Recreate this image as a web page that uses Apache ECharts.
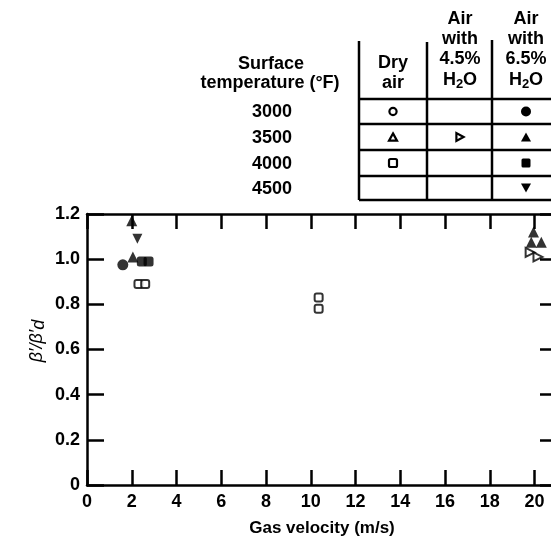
<!DOCTYPE html>
<html><head><meta charset="utf-8">
<script src="https://cdn.jsdelivr.net/npm/echarts@6/dist/echarts.min.js"></script>
<style>html,body{margin:0;padding:0;background:#fff}#c{width:551px;height:548px}</style>
</head><body><div id="c"></div>
<script>
// ---- data ----
const xTickValues = [0, 2, 4, 6, 8, 10, 12, 14, 16, 18, 20];
const yTickValues = [0, 0.2, 0.4, 0.6, 0.8, 1.0, 1.2];
const tempLabels = ['3000', '3500', '4000', '4500'];
const dry3000 = [];
const dry3500 = [];
const dry4000 = [[2.3, 0.89], [2.6, 0.89], [10.35, 0.83], [10.35, 0.78]];
const h45_3500 = [[19.8, 1.03], [20.15, 1.01]];
const h65_3000 = [[1.6, 0.975]];
const h65_3500 = [[2.0, 1.17], [2.05, 1.01], [19.95, 1.12], [19.85, 1.075], [20.3, 1.075]];
const h65_4000 = [[2.45, 0.99], [2.75, 0.99]];
const h65_4500 = [[2.25, 1.09]];

const FONT = '"Liberation Sans", Arial, sans-serif';
const chart = echarts.init(document.getElementById('c'), null, {renderer: 'canvas'});

function openStyle() { return {color: '#fff', borderColor: '#000', borderWidth: 2}; }
function fillStyle() { return {color: '#000'}; }

const axisCommon = {
  type: 'value',
  axisLine: {show: true, onZero: false, lineStyle: {color: '#000', width: 2.5}},
  splitLine: {show: false}
};

// table geometry
const colX = [359, 427, 492, 558];
const rowY = [99, 124, 150, 176, 200];
const colC = [393, 460, 526];

const g = [];
const lineStyle = {stroke: '#000', lineWidth: 2.5};
colX.forEach((x, i) => g.push({type: 'line', shape: {x1: x, y1: i === 0 ? 41 : (i === 1 ? 42 : 40), x2: x, y2: rowY[4]}, style: lineStyle, silent: true}));
rowY.forEach(y => g.push({type: 'line', shape: {x1: colX[0], y1: y, x2: 560, y2: y}, style: lineStyle, silent: true}));

function txt(text, x, y, opt) {
  return Object.assign({type: 'text', x: x, y: y, silent: true,
    style: Object.assign({text: text, fill: '#000', font: 'bold 18px ' + FONT, align: 'center', verticalAlign: 'middle'}, opt || {})});
}
g.push(txt('Surface', 271, 64));
g.push(txt('temperature (°F)', 270, 83));
tempLabels.forEach((t, i) => g.push(txt(t, 292, (rowY[i] + rowY[i + 1]) / 2 + 1, {align: 'right'})));
g.push(txt('Dry', colC[0], 63));
g.push(txt('air', colC[0], 83));
const h2o = {text: '{n|H}{s|2}{n|O}', rich: {n: {font: 'bold 18px ' + FONT, lineHeight: 22, verticalAlign: 'middle'}, s: {font: 'bold 13px ' + FONT, lineHeight: 12, verticalAlign: 'bottom'}}};
[['4.5%', colC[1]], ['6.5%', colC[2]]].forEach(([p, x]) => {
  g.push(txt('Air', x, 19));
  g.push(txt('with', x, 39));
  g.push(txt(p, x, 59));
  g.push(Object.assign(txt('', x, 80), {style: Object.assign({fill: '#000', align: 'center', verticalAlign: 'middle'}, h2o)}));
});
// legend glyphs in table
function rc(r) { return (rowY[r] + rowY[r + 1]) / 2; }
const sOpen = {fill: '#fff', stroke: '#000', lineWidth: 2.2};
const sFill = {fill: '#000'};
function tri(cx, cy, s, dir) {
  const h = s * 0.9;
  if (dir === 'up') return [[cx, cy - h / 2], [cx + s / 2, cy + h / 2], [cx - s / 2, cy + h / 2]];
  if (dir === 'down') return [[cx, cy + h / 2], [cx + s / 2, cy - h / 2], [cx - s / 2, cy - h / 2]];
  return [[cx + h / 2, cy], [cx - h / 2, cy - s / 2], [cx - h / 2, cy + s / 2]];
}
g.push({type: 'circle', shape: {cx: colC[0], cy: rc(0), r: 3.6}, style: sOpen, silent: true});
g.push({type: 'polygon', shape: {points: tri(colC[0], rc(1), 8, 'up')}, style: sOpen, silent: true});
g.push({type: 'rect', shape: {x: colC[0] - 4, y: rc(2) - 4, width: 8, height: 8, r: 1.5}, style: sOpen, silent: true});
g.push({type: 'polygon', shape: {points: tri(colC[1], rc(1), 8, 'right')}, style: sOpen, silent: true});
g.push({type: 'circle', shape: {cx: colC[2], cy: rc(0), r: 5}, style: sFill, silent: true});
g.push({type: 'polygon', shape: {points: tri(colC[2], rc(1), 10, 'up')}, style: sFill, silent: true});
g.push({type: 'rect', shape: {x: colC[2] - 4.5, y: rc(2) - 4.5, width: 9, height: 9, r: 1.5}, style: sFill, silent: true});
g.push({type: 'polygon', shape: {points: tri(colC[2], rc(3), 10, 'down')}, style: sFill, silent: true});
// y axis name
g.push({type: 'text', x: 37, y: 341, rotation: Math.PI / 2, silent: true,
  style: {text: '{a|β′/β′}{b|d}', align: 'center', verticalAlign: 'middle', fill: '#000',
    rich: {a: {font: 'italic 18px ' + FONT, lineHeight: 22, verticalAlign: 'middle'}, b: {font: 'italic 18px ' + FONT, lineHeight: 16, verticalAlign: 'bottom'}}}});

function ser(name, data, symbol, size, style, rotate) {
  return {name: name, type: 'scatter', data: data, symbol: symbol, symbolSize: size, symbolRotate: rotate || 0,
    itemStyle: style, xAxisIndex: 0, yAxisIndex: 0, z: 5};
}

chart.setOption({
  animation: false,
  backgroundColor: '#fff',
  grid: {left: 87, top: 214, width: 470, height: 271, containLabel: false, outerBoundsMode: 'none'},
  xAxis: [
    Object.assign({}, axisCommon, {position: 'bottom', min: 0, max: 21, interval: 2,
      axisTick: {show: true, inside: true, length: 15, lineStyle: {color: '#000', width: 2.5}},
      axisLabel: {margin: 8, color: '#000', fontFamily: FONT, fontWeight: 'bold', fontSize: 18,
        formatter: v => xTickValues.indexOf(v) >= 0 ? String(v) : ''},
      name: 'Gas velocity (m/s)', nameLocation: 'middle', nameGap: 35,
      nameTextStyle: {color: '#000', fontFamily: FONT, fontSize: 17, fontWeight: 'bold'}}),
    Object.assign({}, axisCommon, {position: 'top', min: 0, max: 21, interval: 2,
      axisTick: {show: true, inside: true, length: 15, lineStyle: {color: '#000', width: 2.5}},
      axisLabel: {show: false}})
  ],
  yAxis: [
    Object.assign({}, axisCommon, {position: 'left', min: 0, max: 1.2, interval: 0.2,
      axisTick: {show: true, inside: true, length: 17, lineStyle: {color: '#000', width: 2.5}},
      axisLabel: {margin: 7, color: '#000', fontFamily: FONT, fontWeight: 'bold', fontSize: 18,
        formatter: v => { const t = yTickValues.find(u => Math.abs(u - v) < 1e-9); return t === undefined ? '' : (t === 0 ? '0' : t.toFixed(1)); }}}),
    Object.assign({}, axisCommon, {position: 'right', min: 0, max: 1.2, interval: 0.2,
      axisTick: {show: true, inside: true, length: 17, lineStyle: {color: '#000', width: 2.5}},
      axisLabel: {show: false}})
  ],
  series: [
    ser('Dry 3000', dry3000, 'circle', 9, openStyle()),
    ser('Dry 3500', dry3500, 'triangle', 9, openStyle()),
    ser('Dry 4000', dry4000, 'roundRect', 8, openStyle()),
    ser('4.5% 3500', h45_3500, 'triangle', 9, openStyle(), -90),
    ser('6.5% 3000', h65_3000, 'circle', 11, fillStyle()),
    ser('6.5% 3500', h65_3500, 'triangle', 11, fillStyle()),
    ser('6.5% 4000', h65_4000, 'roundRect', 10, fillStyle()),
    ser('6.5% 4500', h65_4500, 'triangle', 10, fillStyle(), 180)
  ],
  graphic: g
});
</script></body></html>
